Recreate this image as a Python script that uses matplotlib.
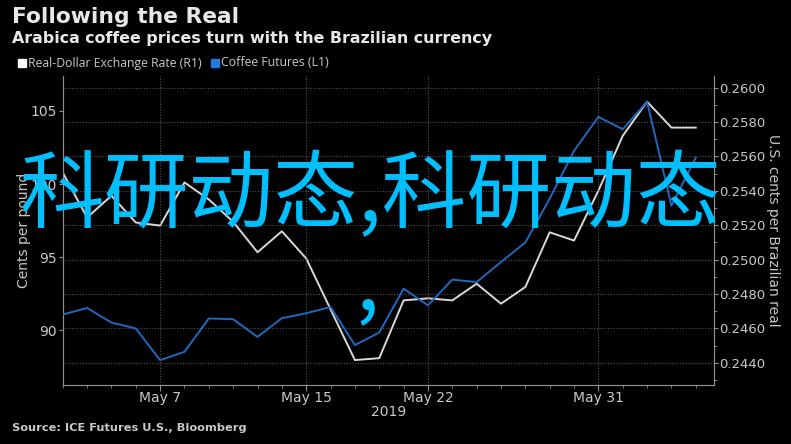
import pandas as pd
import numpy as np
import matplotlib.pyplot as plt
from matplotlib.ticker import MultipleLocator, FixedLocator

# trading days, May 1 - Jun 6 2019
dates = pd.bdate_range('2019-05-01', '2019-06-06')

# Real-Dollar exchange rate (right axis)
brl = [0.25507, 0.25245, 0.25372, 0.25216, 0.25198, 0.25449, 0.25350, 0.25220,
       0.25043, 0.25165, 0.25007, 0.24711, 0.24416, 0.24427, 0.24763, 0.24775,
       0.24763, 0.24860, 0.24744, 0.24841, 0.25159, 0.25111, 0.25401, 0.25720,
       0.25919, 0.25768, 0.25768]

# Coffee futures, cents per pound (left axis)
coffee = [91.07, 91.52, 90.52, 90.12, 87.95, 88.52, 90.80, 90.75,
          89.54, 90.82, 91.16, 91.59, 88.98, 89.84, 92.84, 91.70,
          93.46, 93.29, 94.66, 96.00, 99.00, 102.27, 104.59, 103.75,
          105.63, 98.52, 101.80]

tick_dates = ['2019-05-07', '2019-05-15', '2019-05-22', '2019-05-31']
tick_labels = ['May 7', 'May 15', 'May 22', 'May 31']

bg = 'black'
fg = '#c8c8c8'
blue = '#2068c0'
white = '#d8d8d8'
narrow = ['Liberation Sans Narrow', 'DejaVu Sans']

fig = plt.figure(figsize=(7.91, 4.44), dpi=100, facecolor=bg)
ax = fig.add_axes([0.0793, 0.1329, 0.8234, 0.6959], facecolor=bg)
ax2 = ax.twinx()

x = np.arange(len(dates))
ax.plot(x, coffee, color=blue, lw=1.4, zorder=3)
ax2.plot(x, brl, color=white, lw=1.4, zorder=3)

ax.set_xlim(0, 26.75)
ax.set_ylim(86.25, 107.39)
ax2.set_ylim(0.24271, 0.26068)

# x ticks
major_pos = [list(dates.strftime('%Y-%m-%d')).index(d) for d in tick_dates]
ax.xaxis.set_major_locator(FixedLocator(major_pos))
ax.set_xticklabels(tick_labels)
ax.xaxis.set_minor_locator(MultipleLocator(1))
ax.set_xlabel('2019', color=fg, fontsize=10, family=narrow, labelpad=0)

ax.yaxis.set_major_locator(MultipleLocator(5))
ax.set_ylabel('Cents per pound', color=fg, fontsize=10, family=narrow, labelpad=0)

ax2.yaxis.set_major_locator(MultipleLocator(0.002))
ax2.yaxis.set_minor_locator(MultipleLocator(0.001))
ax2.yaxis.set_major_formatter(plt.FuncFormatter(lambda v, p: f'{v:.4f}'))
ax2.set_ylabel('U.S. cents per Brazilian real', color=fg, fontsize=10,
               family=narrow, rotation=270, labelpad=10)

for a in (ax, ax2):
    for s in a.spines.values():
        s.set_color('#909090')
    a.spines['top'].set_visible(False)
    a.tick_params(colors='#909090', labelcolor=fg, labelsize=10, length=3, pad=1)
    a.tick_params(which='minor', colors='#909090', length=2)
    for lab in a.get_xticklabels() + a.get_yticklabels():
        lab.set_family(narrow)
ax.tick_params(axis='x', which='major', length=4, pad=0)
ax2.tick_params(axis='y', labelsize=9.5)

# grid: horizontal on the right axis, vertical on date ticks
ax2.grid(axis='y', color='#555555', ls=(0, (1, 1.5)), lw=0.8)
ax.grid(axis='x', color='#555555', ls=(0, (1, 1.5)), lw=0.8)
ax.set_zorder(ax2.get_zorder() + 1)
ax.patch.set_visible(False)

# titles
fig.text(0.015, 0.962, 'Following the Real', color='#e8e8e8', fontsize=15.7,
         fontweight='bold', va='center', family='DejaVu Sans')
fig.text(0.015, 0.913, 'Arabica coffee prices turn with the Brazilian currency',
         color='#e8e8e8', fontsize=11.4, fontweight='bold', va='center',
         family='DejaVu Sans')

# legend
fig.patches.append(plt.Rectangle((18 / 791, 1 - 67 / 444), 8 / 791, 8 / 444,
                                 transform=fig.transFigure, color='white'))
fig.text(28 / 791, 1 - 63 / 444, 'Real-Dollar Exchange Rate (R1)', color=fg,
         fontsize=8.8, va='center', family=['Open Sans', 'DejaVu Sans'])
fig.patches.append(plt.Rectangle((211 / 791, 1 - 67 / 444), 8 / 791, 8 / 444,
                                 transform=fig.transFigure, color='#1e7be0'))
fig.text(221 / 791, 1 - 63 / 444, 'Coffee Futures (L1)', color=fg,
         fontsize=8.8, va='center', family=['Open Sans', 'DejaVu Sans'])

fig.text(0.015, 1 - 428 / 444, 'Source: ICE Futures U.S., Bloomberg', color=fg,
         fontsize=8.2, fontweight='bold', va='center', family=narrow)

# overlay text
cjk = ['Noto Sans CJK SC', 'DejaVu Sans']
fig.text(20 / 791, 1 - 197 / 444, '科研动态,科研动态', color='#00bfff',
         fontsize=61, va='center', ha='left', family=cjk, zorder=10)
fig.text(367 / 791, 1 - 285 / 444, ',', color='#00bfff',
         fontsize=61, va='center', ha='center', family=cjk, zorder=10)

fig.savefig('out.png', dpi=100, facecolor=bg)
